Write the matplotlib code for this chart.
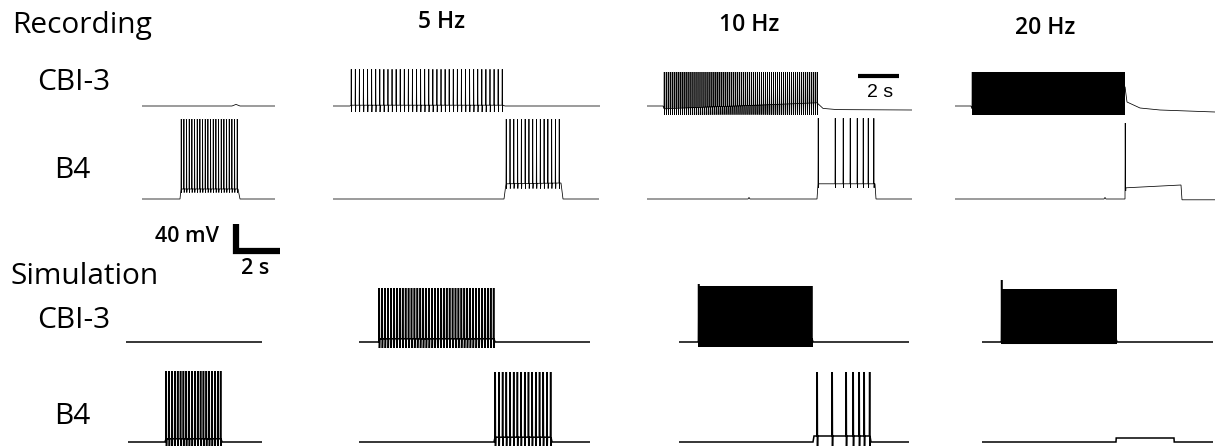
import matplotlib
matplotlib.use("Agg")
import matplotlib.pyplot as plt
import numpy as np

# ---- data (time in s, membrane potential in mV) ----
rows = ["rec_cbi", "rec_b4", "sim_cbi", "sim_b4"]
col_titles = ["", "5 Hz", "10 Hz", "20 Hz"]

# membrane envelope breakpoints for every trace
env_t = {
    ("rec_cbi", 0): [0, 4.5, 4.7, 4.9, 6.65],
    ("rec_b4", 0): [0, 1.9, 1.95, 4.8, 4.9, 6.65],
    ("rec_cbi", 1): [0, 0.85, 0.9, 8.5, 8.6, 13.35],
    ("rec_b4", 1): [0, 8.55, 8.65, 11.4, 11.5, 13.3],
    ("rec_cbi", 2): [0, 0.8, 0.85, 8.5, 8.8, 9.5, 13.25],
    ("rec_b4", 2): [0, 5.05, 5.1, 5.15, 8.5, 8.55, 11.4, 11.45, 13.25],
    ("rec_cbi", 3): [0, 0.8, 0.85, 4.5, 8.5, 8.6, 9.25, 10.25, 13.0],
    ("rec_b4", 3): [0, 7.45, 7.5, 7.55, 8.5, 8.55, 11.3, 11.35, 13.0],
    ("sim_cbi", 0): [0, 6.8],
    ("sim_b4", 0): [0, 1.85, 1.9, 4.65, 4.7, 6.7],
    ("sim_cbi", 1): [0, 1.0, 1.05, 6.75, 6.8, 11.55],
    ("sim_b4", 1): [0, 6.75, 6.8, 9.6, 9.65, 11.55],
    ("sim_cbi", 2): [0, 0.95, 1.0, 6.65, 6.7, 11.5],
    ("sim_b4", 2): [0, 6.7, 6.75, 9.55, 9.6, 11.5],
    ("sim_cbi", 3): [0, 0.95, 1.0, 6.7, 6.75, 11.55],
    ("sim_b4", 3): [0, 6.7, 6.71, 9.6, 9.61, 11.55],
}
env_v = {
    ("rec_cbi", 0): [-60, -60, -58, -60, -60],
    ("rec_b4", 0): [-60, -60, -47.5, -47.5, -60, -60],
    ("rec_cbi", 1): [-60, -60, -59, -59, -60, -60],
    ("rec_b4", 1): [-60, -60, -41, -40, -60, -60],
    ("rec_cbi", 2): [-60, -60, -63.5, -56, -63, -64.5, -65],
    ("rec_b4", 2): [-60, -60, -58, -60, -60, -41, -41, -60, -60],
    ("rec_cbi", 3): [-60, -60, -63.5, -45, -36, -55, -62.5, -65, -67.5],
    ("rec_b4", 3): [-60, -60, -58, -60, -60, -46, -42.5, -61, -61],
    ("sim_cbi", 0): [-60, -60],
    ("sim_b4", 0): [-60, -60, -56, -56, -60, -60],
    ("sim_cbi", 1): [-60, -60, -56, -56, -60, -60],
    ("sim_b4", 1): [-60, -60, -54, -54, -60, -60],
    ("sim_cbi", 2): [-60, -60, -56, -56, -60, -60],
    ("sim_b4", 2): [-60, -60, -52.5, -52.5, -60, -60],
    ("sim_cbi", 3): [-60, -60, -56, -56, -60, -60],
    ("sim_b4", 3): [-60, -60, -55, -55, -60, -60],
}

# bursts: (first spike, last spike, spike count)
bursts = {
    ("rec_b4", 0): (1.95, 4.75, 22),
    ("rec_cbi", 1): (0.9, 8.45, 38),
    ("rec_b4", 1): (8.65, 11.3, 15),
    ("rec_cbi", 2): (0.85, 8.5, 78),
    ("rec_cbi", 3): (0.85, 8.45, 153),
    ("sim_b4", 0): (1.9, 4.62, 20),
    ("sim_cbi", 1): (1.0, 6.72, 40),
    ("sim_b4", 1): (6.8, 9.57, 16),
    ("sim_cbi", 2): (0.97, 6.62, 82),
    ("sim_cbi", 3): (0.97, 6.68, 116),
}
# sparse spike trains read one by one
spike_list = {
    ("rec_b4", 2): [8.55, 9.4, 9.8, 10.15, 10.5, 10.8, 11.05, 11.33],
    ("rec_b4", 3): [8.5],
    ("sim_b4", 2): [6.9, 7.65, 8.35, 8.7, 9.0, 9.25, 9.52],
}
# (peak, trough) in mV
spike_amp = {
    ("rec_b4", 0): (40, -52),
    ("rec_cbi", 1): (-14, -67.5),
    ("rec_b4", 1): (40, -47),
    ("rec_cbi", 2): (-17.5, -71),
    ("rec_b4", 2): (41, -46),
    ("rec_cbi", 3): (-17.5, -71),
    ("rec_b4", 3): (35, -46),
    ("sim_b4", 0): (28.75, -72),
    ("sim_cbi", 1): (7.5, -67.5),
    ("sim_b4", 1): (27.5, -70),
    ("sim_cbi", 2): (10, -66),
    ("sim_b4", 2): (27.5, -75),
    ("sim_cbi", 3): (6, -62.5),
}
first_peak = {("sim_cbi", 2): 12.5, ("sim_cbi", 3): 17.5}

# ---- layout (pixels) ----
W, H = 1215, 446
PX_S = 20.0    # px per second
PX_MV = 0.8    # px per mV
col_left = {
    "rec_cbi": [142, 333, 647, 955], "rec_b4": [142, 333, 647, 955],
    "sim_cbi": [126, 359, 679, 982], "sim_b4": [128, 359, 679, 982],
}
row_base = {"rec_cbi": 106, "rec_b4": 199, "sim_cbi": 342, "sim_b4": 442}


def trace_axes(fig, left, base, dur):
    top, bottom = base - 110, base + 14
    width = dur * PX_S
    ax = fig.add_axes([left / W, 1 - bottom / H, width / W, (bottom - top) / H])
    ax.set_xlim(0, dur)
    ax.set_ylim(-60 - (bottom - base) / PX_MV, -60 + (base - top) / PX_MV)
    ax.set_axis_off()
    ax.patch.set_alpha(0)
    return ax


def build_trace(key):
    et, ev = env_t[key], env_v[key]
    ts = list(et)
    vs = list(ev)
    if key in bursts:
        on, off, n = bursts[key]
        spikes = np.linspace(on, off, n)
    else:
        spikes = np.array(spike_list.get(key, []))
    if len(spikes):
        peak, trough = spike_amp[key]
        w = min(0.012, np.min(np.diff(spikes)) / 4) if len(spikes) > 1 else 0.012
        for i, s in enumerate(spikes):
            pk = first_peak.get(key, peak) if i == 0 else peak
            for dt, v in [(0, None), (w, pk), (2 * w, trough), (3 * w, None)]:
                t = s + dt
                ts.append(t)
                vs.append(np.interp(t, et, ev) if v is None else v)
    order = np.argsort(ts, kind="stable")
    return np.array(ts)[order], np.array(vs)[order]


fig = plt.figure(figsize=(W / 100, H / 100), dpi=100)
fig.patch.set_facecolor("white")

axes = {}
for r in rows:
    for c in range(4):
        key = (r, c)
        dur = env_t[key][-1]
        ax = trace_axes(fig, col_left[r][c], row_base[r], dur)
        t, v = build_trace(key)
        lw = 0.55 if r.startswith("rec") else 1.1
        ax.plot(t, v, color="black", lw=lw, solid_joinstyle="miter")
        axes[key] = ax

# 2 s bar in the 10 Hz recording panel
ax = axes[("rec_cbi", 2)]
ax.plot([10.55, 12.6], [-22.5, -22.5], color="black", lw=3, solid_capstyle="butt")
ax.text(11.65, -43, "2 s", ha="center", va="center", fontsize=14,
        family=["Liberation Sans", "DejaVu Sans"])

# 40 mV / 2 s L-shaped scale bar
sb = fig.add_axes([230 / W, 1 - 256 / H, 60 / W, 42 / H])
sb.set_xlim(0, 60 / PX_S)
sb.set_ylim(0, 42 / PX_MV)
sb.set_axis_off()
sb.patch.set_alpha(0)
sb.plot([0.3, 0.3, 0.3 + 2.2], [0.3 + 40, 6.5, 6.5], color="black", lw=4.5,
        solid_joinstyle="miter", solid_capstyle="butt")

font = ["Open Sans", "DejaVu Sans"]


def ftext(x, y, s, **kw):
    fig.text(x / W, 1 - y / H, s, family=font, va="center", **kw)


ftext(12, 25, "Recording", fontsize=21.5)
ftext(10, 277, "Simulation", fontsize=21.5)
for y in (82, 320):
    ftext(37, y, "CBI-3", fontsize=21.5)
for y in (170, 417):
    ftext(54, y, "B4", fontsize=21.5)
ftext(187, 237, "40 mV", fontsize=15.5, ha="center", weight="semibold")
ftext(255, 269, "2 s", fontsize=15.5, ha="center", weight="semibold")
for cx, cy, s in [(442, 22, col_titles[1]), (749, 25, col_titles[2]), (1045, 28, col_titles[3])]:
    ftext(cx, cy, s, fontsize=16.5, ha="center", weight="semibold")

fig.savefig("out.png", dpi=100)
